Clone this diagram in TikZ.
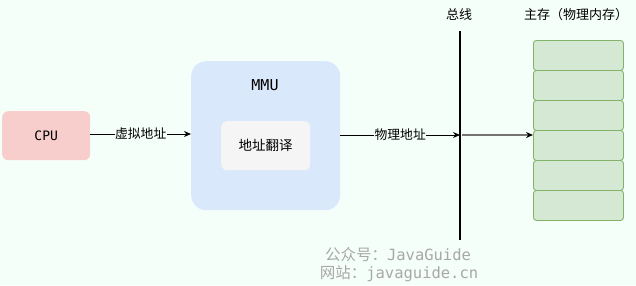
\documentclass[tikz,border=0pt]{standalone}
\usepackage{fontspec}
\setmainfont{Noto Sans CJK SC}
\newfontfamily\cjk{Noto Sans CJK SC}
\newfontfamily\monof{DejaVu Sans Mono}
\usetikzlibrary{arrows.meta}
\definecolor{bgc}{HTML}{F5FFFA}
\definecolor{cpuf}{HTML}{F8CECC}
\definecolor{mmuf}{HTML}{DAE8FC}
\definecolor{innf}{HTML}{F5F5F5}
\definecolor{memf}{HTML}{D5E8D4}
\definecolor{memd}{HTML}{82B366}
\definecolor{wmc}{HTML}{A8A8A8}
\tikzset{
  box/.style={rounded corners=6pt, inner sep=0pt, anchor=north west},
  lbl/.style={font=\cjk\fontsize{12.8}{14}\selectfont, fill=bgc, inner sep=0.5pt},
  conn/.style={-{Stealth[length=7pt,width=6pt]}, line width=1pt},
  cell/.style={draw=memd, fill=memf, rounded corners=3pt, line width=0.9pt, minimum width=90pt, minimum height=30pt, inner sep=0pt, anchor=north west},
  ttl/.style={font=\cjk\fontsize{13}{15}\selectfont},
}
\begin{document}
\begin{tikzpicture}[x=1pt,y=-1pt]
\fill[bgc] (0,0) rectangle (636,285);
\useasboundingbox (0,0) rectangle (636,285);
% CPU
\node[box, fill=cpuf, minimum width=88pt, minimum height=49pt, font=\monof\fontsize{13}{15}\selectfont] (cpu) at (2,111) {CPU};
% MMU
\node[box, fill=mmuf, rounded corners=15pt, minimum width=149pt, minimum height=149pt] (mmu) at (191,61) {};
\node[font=\monof\fontsize{15}{17}\selectfont] (mmut) at (265,85) {MMU};
\node[box, fill=innf, minimum width=89pt, minimum height=49pt, font=\cjk\fontsize{13.5}{15}\selectfont] (inner) at (221,121) {地址翻译};
% bus
\coordinate (bustop) at (460,31);
\coordinate (busbot) at (460,240);
\draw[line width=2.2pt] (bustop) -- (busbot);
\node[ttl] (bust) at (459,15) {总线};
\coordinate (busin) at (460,135);
\coordinate (busout) at (462,135);
% memory
\foreach \i in {0,...,5} {
  \node[cell] (m\i) at (533,{40+30*\i}) {};
}
\node[ttl] (memt) at (576,15) {主存（物理内存）};
% connectors
\draw[conn] (cpu.east |- 0,134) -- node[lbl] {虚拟地址} (mmu.west |- 0,134);
\draw[conn] (mmu.east |- busin) -- node[lbl] {物理地址} (busin);
\draw[-{Stealth[length=7pt,width=6pt,color=black]}, draw=black!55, line width=1.6pt] (busout) -- (m3.west |- busout);
% watermark
\node[font=\fontsize{15.5}{17}\selectfont, text=wmc] (wm1) at (398,255) {{\cjk 公众号：}{\monof JavaGuide}};
\node[font=\fontsize{15.5}{17}\selectfont, text=wmc] (wm2) at (399,274) {{\cjk 网站：}{\monof javaguide.cn}};
\end{tikzpicture}
\end{document}
